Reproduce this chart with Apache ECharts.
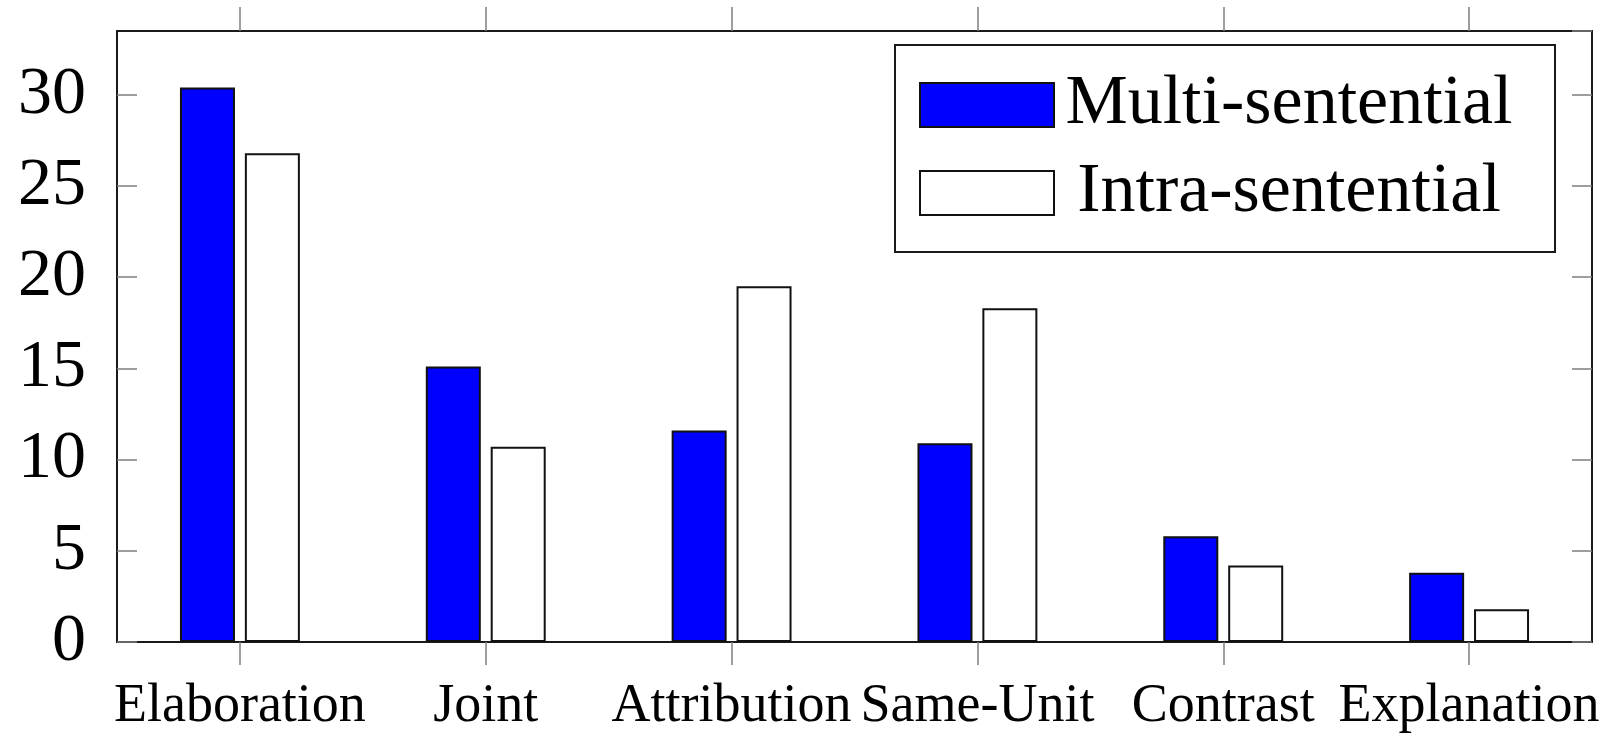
<!DOCTYPE html>
<html>
<head>
<meta charset="utf-8">
<script src="https://cdn.jsdelivr.net/npm/echarts@6/dist/echarts.min.js"></script>
<style>html,body{margin:0;padding:0;background:#fff}#c{width:1609px;height:739px}</style>
</head>
<body>
<div id="c"></div>
<script>
const categories = ['Elaboration', 'Joint', 'Attribution', 'Same-Unit', 'Contrast', 'Explanation'];
const seriesNames = ['Multi-sentential', 'Intra-sentential'];
const multiSentential = [30.4, 15.1, 11.6, 10.9, 5.8, 3.8];
const intraSentential = [26.8, 10.7, 19.5, 18.3, 4.2, 1.8];
const yTicks = [0, 5, 10, 15, 20, 25, 30];

const chart = echarts.init(document.getElementById('c'), null, {renderer: 'canvas'});
const serif = '"Liberation Serif", "DejaVu Serif", serif';
const tickGray = '#7f7f7f';
const frame = '#1a1a1a';

const option = {
  animation: false,
  backgroundColor: '#fff',
  grid: {left: 117, right: 17, top: 31, bottom: 97, containLabel: false},
  legend: {
    orient: 'vertical',
    left: 895,
    top: 45,
    padding: [25, 36, 24, 24],
    itemGap: 18,
    itemWidth: 134,
    itemHeight: 44,
    icon: 'rect',
    borderColor: frame,
    borderWidth: 2,
    backgroundColor: '#fff',
    data: seriesNames,
    formatter: '{t|{name}}',
    textStyle: {
      fontFamily: serif,
      fontSize: 70,
      color: '#000',
      rich: {t: {width: 460, align: 'center', fontFamily: serif, fontSize: 70, lineHeight: 72, color: '#000'}}
    }
  },
  xAxis: [
    {
      type: 'category',
      data: categories,
      position: 'bottom',
      axisLine: {show: true, onZero: false, lineStyle: {color: frame, width: 2}},
      axisTick: {show: true, alignWithLabel: true, inside: false, length: 23, lineStyle: {color: tickGray, width: 1.5}},
      axisLabel: {fontFamily: serif, fontSize: 54, color: '#000', margin: 38, interval: 0},
      splitLine: {show: false}
    },
    {
      type: 'category',
      data: categories,
      position: 'top',
      axisLine: {show: true, onZero: false, lineStyle: {color: frame, width: 2}},
      axisTick: {show: true, alignWithLabel: true, inside: false, length: 24, lineStyle: {color: tickGray, width: 1.5}},
      axisLabel: {show: false},
      splitLine: {show: false}
    }
  ],
  yAxis: [
    {
      type: 'value',
      position: 'left',
      min: 0,
      max: 33.5,
      interval: 5,
      axisLine: {show: true, onZero: false, lineStyle: {color: frame, width: 2}},
      axisTick: {show: true, inside: true, length: 20, lineStyle: {color: tickGray, width: 1.5}},
      axisLabel: {
        fontFamily: serif, fontSize: 68, color: '#000', margin: 31, showMaxLabel: false,
        formatter: v => (yTicks.indexOf(v) >= 0 ? String(v) : '')
      },
      splitLine: {show: false}
    },
    {
      type: 'value',
      position: 'right',
      min: 0,
      max: 33.5,
      interval: 5,
      axisLine: {show: true, onZero: false, lineStyle: {color: frame, width: 2}},
      axisTick: {show: true, inside: true, length: 20, lineStyle: {color: tickGray, width: 1.5}},
      axisLabel: {show: false},
      splitLine: {show: false}
    }
  ],
  series: [
    {
      name: seriesNames[0],
      type: 'bar',
      xAxisIndex: 0,
      yAxisIndex: 0,
      data: multiSentential,
      barWidth: 55,
      barGap: '18%',
      itemStyle: {color: '#0000ff', borderColor: '#111', borderWidth: 2}
    },
    {
      name: seriesNames[1],
      type: 'bar',
      xAxisIndex: 0,
      yAxisIndex: 0,
      data: intraSentential,
      barWidth: 55,
      barGap: '18%',
      itemStyle: {color: '#ffffff', borderColor: '#111', borderWidth: 2}
    }
  ]
};
chart.setOption(option);
</script>
</body>
</html>
